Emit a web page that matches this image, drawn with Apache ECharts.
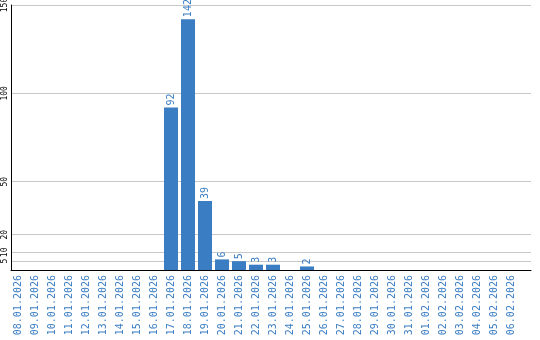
<!DOCTYPE html>
<html><head><meta charset="utf-8">
<script src="https://cdn.jsdelivr.net/npm/echarts@6/dist/echarts.min.js"></script>
<style>html,body{margin:0;padding:0;background:#fff}#c{width:540px;height:340px}</style>
</head><body><div id="c"></div>
<script>
var categories = ["08.01.2026","09.01.2026","10.01.2026","11.01.2026","12.01.2026","13.01.2026","14.01.2026","15.01.2026","16.01.2026","17.01.2026","18.01.2026","19.01.2026","20.01.2026","21.01.2026","22.01.2026","23.01.2026","24.01.2026","25.01.2026","26.01.2026","27.01.2026","28.01.2026","29.01.2026","30.01.2026","31.01.2026","01.02.2026","02.02.2026","03.02.2026","04.02.2026","05.02.2026","06.02.2026"];
var values = [null,null,null,null,null,null,null,null,null,92,142,39,6,5,3,3,null,2,null,null,null,null,null,null,null,null,null,null,null,null];
var yTicks = [5,10,20,50,100,150];

var blue = '#3a7dc2';
var chart = echarts.init(document.getElementById('c'));
chart.setOption({
  animation: false,
  grid: [
    {left: 11, right: 9, top: 5, bottom: 70, outerBoundsMode: 'none', containLabel: false},
    {left: 9.5, width: 510, top: 5, bottom: 70, outerBoundsMode: 'none', containLabel: false}
  ],
  xAxis: [
    {gridIndex: 0, type: 'value', min: 0, max: 1, show: true,
     axisLine: {show: true, onZero: false, lineStyle: {color: '#000', width: 1}},
     axisTick: {show: false}, axisLabel: {show: false}, splitLine: {show: false}},
    {gridIndex: 1, type: 'category', data: categories,
     axisLine: {show: false}, axisTick: {show: false},
     axisLabel: {rotate: 90, interval: 0, margin: 5, color: blue,
       fontFamily: 'DejaVu Sans Mono', fontSize: 10}}
  ],
  yAxis: [
    {gridIndex: 0, type: 'value', min: 0, max: 150,
     axisLine: {show: true, lineStyle: {color: '#000', width: 1}},
     axisTick: {show: false, customValues: yTicks},
     axisLabel: {customValues: yTicks, rotate: 90, margin: 2, color: '#000',
       fontFamily: 'DejaVu Sans Mono', fontSize: 8},
     splitLine: {show: true, lineStyle: {color: '#c8c8c8', width: 1}}},
    {gridIndex: 1, type: 'value', min: 0, max: 150, show: false}
  ],
  series: [{
    type: 'bar', xAxisIndex: 1, yAxisIndex: 1, data: values,
    barWidth: 14,
    itemStyle: {color: blue},
    label: {show: true, position: 'top', rotate: 90, align: 'left', verticalAlign: 'middle',
      distance: 2, color: blue, fontFamily: 'DejaVu Sans Mono', fontSize: 10}
  }]
});
</script></body></html>
